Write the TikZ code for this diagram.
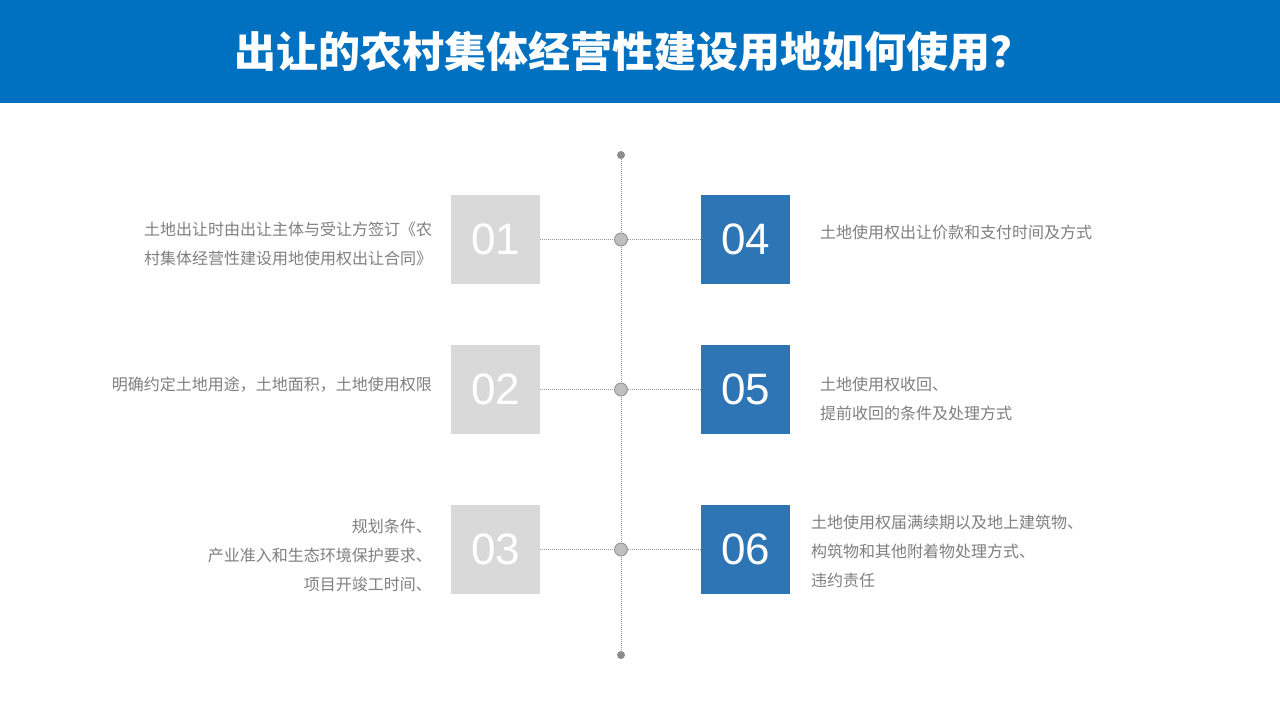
\documentclass[tikz,border=0pt]{standalone}
\usepackage{fontspec}
\setmainfont{Noto Sans CJK SC}
\newfontfamily\numfont{Liberation Sans}
\definecolor{barblue}{HTML}{0070C0}
\definecolor{boxblue}{HTML}{2E75B6}
\definecolor{boxgray}{HTML}{D9D9D9}
\definecolor{txtgray}{HTML}{7F7F7F}
\definecolor{linegray}{HTML}{8C8C8C}
\definecolor{dotfill}{HTML}{BFBFBF}
\begin{document}
\begin{tikzpicture}[x=1pt,y=-1pt,
  numbox/.style={minimum width=89pt,minimum height=89pt,inner sep=0pt,text=white,font=\numfont\fontsize{44}{44}\selectfont},
  graybox/.style={numbox,fill=boxgray},
  bluebox/.style={numbox,fill=boxblue},
  desc/.style={text=txtgray,inner sep=0pt,font=\fontsize{16}{29}\selectfont},
  conn/.style={draw=linegray!90,dash pattern=on 1pt off 1pt,line width=1pt},
  joint/.style={circle,fill=dotfill,draw=linegray,line width=0.8pt,minimum size=13pt,inner sep=0pt},
  endpt/.style={circle,fill=linegray,minimum size=8pt,inner sep=0pt}]
\useasboundingbox (0,0) rectangle (1280,720);
\fill[white] (0,0) rectangle (1280,720);
\fill[barblue] (0,0) rectangle (1280,103);
\node[text=white,font=\bfseries\fontsize{42}{42}\selectfont] (title) at (633,52) {出让的农村集体经营性建设用地如何使用？};
% timeline
\node[endpt] (top) at (621,155) {};
\node[endpt] (bot) at (621,655) {};
\draw[conn] (top) -- (bot);
% boxes
\node[graybox] (b1) at (495.5,239.5) {01};
\node[graybox] (b2) at (495.5,389.5) {02};
\node[graybox] (b3) at (495.5,549.5) {03};
\node[bluebox] (b4) at (745.5,239.5) {04};
\node[bluebox] (b5) at (745.5,389.5) {05};
\node[bluebox] (b6) at (745.5,549.5) {06};
\draw[conn] (b1) -- (b4);
\draw[conn] (b2) -- (b5);
\draw[conn] (b3) -- (b6);
\node[joint] (j1) at (621,239.5) {};
\node[joint] (j2) at (621,389.5) {};
\node[joint] (j3) at (621,549.5) {};
% texts
\node[desc,align=left,anchor=west] (t1) at (144,244) {土地出让时由出让主体与受让方签订《农\\村集体经营性建设用地使用权出让合同》};
\node[desc,align=right,anchor=east] (t2) at (432,385) {明确约定土地用途，土地面积，土地使用权限};
\node[desc,align=right,anchor=east] (t3) at (432,555) {规划条件、\\产业准入和生态环境保护要求、\\项目开竣工时间、};
\node[desc,align=left,anchor=west] (t4) at (820,232) {土地使用权出让价款和支付时间及方式};
\node[desc,align=left,anchor=west] (t5) at (820,399) {土地使用权收回、\\提前收回的条件及处理方式};
\node[desc,align=left,anchor=west] (t6) at (811,551) {土地使用权届满续期以及地上建筑物、\\构筑物和其他附着物处理方式、\\违约责任};
\end{tikzpicture}
\end{document}
